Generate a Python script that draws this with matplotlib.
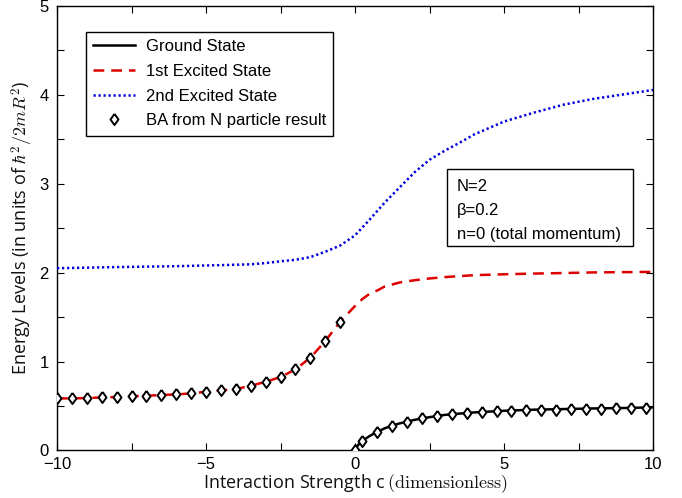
import matplotlib
matplotlib.use("Agg")
import matplotlib.pyplot as plt
from matplotlib.patches import Rectangle
from matplotlib.ticker import MultipleLocator

plt.rcParams['font.family'] = ['Liberation Sans', 'DejaVu Sans']
plt.rcParams['mathtext.fontset'] = 'cm'

# ---- data ----
# Ground state (line)
c_ground = [0, 0.1, 0.25, 0.5, 0.75, 1.0, 1.25, 1.5, 1.75, 2.0, 2.5, 3.0, 3.5, 4.0, 5.0, 6.0, 7.0, 8.0, 9.0, 10.0]
e_ground = [0, 0.06, 0.11, 0.165, 0.21, 0.25, 0.28, 0.305, 0.325, 0.345, 0.375, 0.40, 0.415, 0.428, 0.447, 0.459, 0.466, 0.473, 0.478, 0.485]

# 1st excited state (line)
c_first = [-10, -9.5, -9, -8.5, -8, -7.5, -7, -6.5, -6, -5.5, -5, -4.5, -4, -3.5, -3, -2.5, -2, -1.5, -1, -0.5,
           0, 0.25, 0.5, 0.75, 1.0, 1.5, 2.0, 2.5, 3.0, 4.0, 5.0, 6.0, 7.0, 8.0, 9.0, 10.0]
e_first = [0.586, 0.586, 0.590, 0.597, 0.601, 0.609, 0.616, 0.624, 0.631, 0.642, 0.661, 0.676, 0.691, 0.728,
           0.773, 0.826, 0.912, 1.043, 1.230, 1.448,
           1.625, 1.705, 1.765, 1.80, 1.845, 1.89, 1.915, 1.935, 1.950, 1.972, 1.982, 1.990, 1.996, 2.003, 2.006, 2.009]

# 2nd excited state (line)
c_second = [-10, -8, -6, -4.5, -3.5, -3, -2.5, -2, -1.5, -1, -0.5, 0, 0.5, 1, 1.5, 2, 2.5, 3, 3.5, 4, 5, 6, 7, 8, 9, 10]
e_second = [2.05, 2.063, 2.073, 2.085, 2.094, 2.108, 2.128, 2.145, 2.175, 2.235, 2.305, 2.42, 2.60, 2.79, 2.96,
            3.13, 3.27, 3.37, 3.46, 3.555, 3.70, 3.80, 3.89, 3.955, 4.005, 4.055]

# BA from N particle result (diamonds)
c_ba_neg = [-10, -9.5, -9, -8.5, -8, -7.5, -7, -6.5, -6, -5.5, -5, -4.5, -4, -3.5, -3, -2.5, -2, -1.5, -1, -0.5]
e_ba_neg = [0.586, 0.586, 0.590, 0.597, 0.601, 0.609, 0.616, 0.624, 0.631, 0.642, 0.661, 0.676, 0.691, 0.728,
            0.773, 0.826, 0.912, 1.043, 1.230, 1.448]
c_ba_pos = [0, 0.25, 0.75, 1.25, 1.75, 2.25, 2.75, 3.25, 3.75, 4.25, 4.75, 5.25, 5.75, 6.25, 6.75, 7.25, 7.75,
            8.25, 8.75, 9.25, 9.75]
e_ba_pos = [0, 0.11, 0.21, 0.28, 0.325, 0.36, 0.39, 0.41, 0.42, 0.43, 0.44, 0.448, 0.452, 0.457, 0.461, 0.465,
            0.468, 0.471, 0.474, 0.476, 0.478]

labels = ["Ground State", "1st Excited State", "2nd Excited State", "BA from N particle result"]
info_lines = ["N=2", "\u03b2=0.2", "n=0 (total momentum)"]

# ---- figure ----
fig = plt.figure(figsize=(6.82, 4.98), dpi=100)
ax = fig.add_axes([0.0836, 0.0954, 0.8739, 0.8926])

diamond = [(0, 1), (0.72, 0), (0, -1), (-0.72, 0), (0, 1)]

l1, = ax.plot(c_ground, e_ground, color='black', lw=1.8, label=labels[0], zorder=3)
l2, = ax.plot(c_first, e_first, color='#dd0000', lw=1.8, ls=(0, (4.3, 2.8)), label=labels[1], zorder=3)
l3, = ax.plot(c_second, e_second, color='#0000dd', lw=1.8, ls=(0, (0.9, 1.1)), label=labels[2], zorder=3)
ba_kw = dict(ls='none', marker=diamond, ms=8, mfc='white', mec='black', mew=1.4, zorder=4)
m1, = ax.plot(c_ba_neg, e_ba_neg, label=labels[3], **ba_kw)
ax.plot(c_ba_pos, e_ba_pos, **ba_kw)

ax.set_xlim(-10, 10)
ax.set_ylim(0, 5)
ax.set_xticks([-10, -5, 0, 5, 10])
ax.set_xticklabels(['\u221210', '\u22125', '0', '5', '10'])
ax.xaxis.set_minor_locator(MultipleLocator(2.5))
ax.yaxis.set_major_locator(MultipleLocator(1))
ax.yaxis.set_minor_locator(MultipleLocator(0.5))
ax.tick_params(which='both', direction='in', top=True, right=True, labelsize=12, colors='black')
ax.tick_params(which='major', length=5, width=0.8)
ax.tick_params(which='minor', length=5, width=0.8)
ax.tick_params(axis='x', pad=5)
ax.tick_params(axis='y', pad=6)
for s in ax.spines.values():
    s.set_linewidth(1.0)

ax.set_xlabel(r"Interaction Strength c$\,(\mathrm{dimensionless})$", fontsize=13,
              family=['Open Sans', 'DejaVu Sans'], labelpad=0, color='#111111')
ax.set_ylabel(r"Energy Levels (in units of $\hbar^2/2mR^2$)", fontsize=13,
              family=['Open Sans', 'DejaVu Sans'], labelpad=3, color='#111111')

leg = ax.legend(handles=[l1, l2, l3, m1], loc='upper left', bbox_to_anchor=(0.048, 0.942),
                fontsize=12, frameon=True, fancybox=False, edgecolor='black', framealpha=1,
                handlelength=2.5, handletextpad=0.65, borderpad=0.45, labelspacing=0.58,
                borderaxespad=0)
leg.get_frame().set_linewidth(1.0)

# info box
ax.add_patch(Rectangle((0.654, 0.461), 0.313, 0.172, transform=ax.transAxes, fill=True,
                       facecolor='white', edgecolor='black', lw=1.0, zorder=5))
for i, t in enumerate(info_lines):
    ax.text(0.671, 0.595 - i * 0.054, t, transform=ax.transAxes, fontsize=12,
            va='center', ha='left', zorder=6)

fig.savefig("out.png", dpi=100)
